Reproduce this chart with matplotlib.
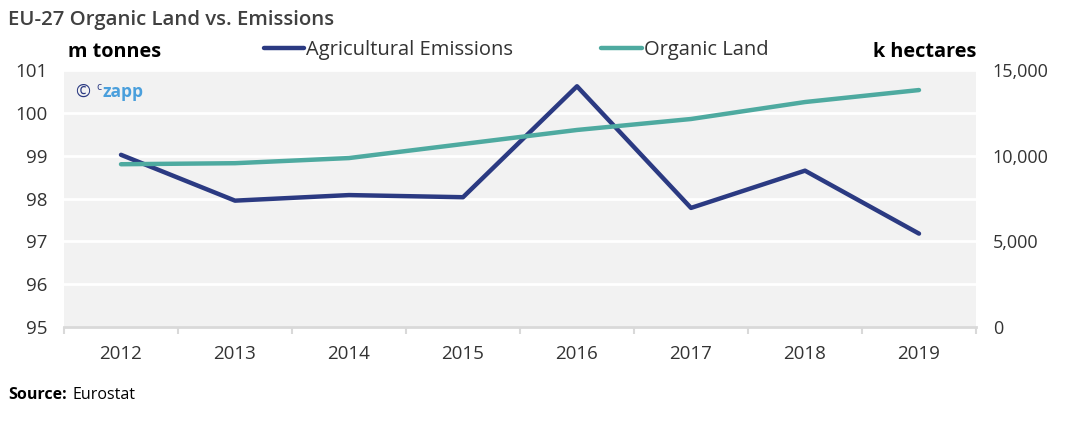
import numpy as np
import matplotlib.pyplot as plt

plt.rcParams['font.family'] = ['Open Sans', 'DejaVu Sans']

# data
years = ['2012', '2013', '2014', '2015', '2016', '2017', '2018', '2019']
emissions = [99.02, 97.95, 98.08, 98.03, 100.62, 97.78, 98.65, 97.18]  # m tonnes
organic = [9500, 9560, 9860, 10680, 11500, 12140, 13130, 13830]  # k hectares

navy = '#2b3a82'
teal = '#4eaaa0'
txt = '#333333'

fig = plt.figure(figsize=(10.66, 4.22), dpi=100)
ax = fig.add_axes([64/1066, 1-327/422, 912/1066, 257/422])
ax2 = ax.twinx()

x = np.arange(len(years))
ax.set_facecolor('#f2f2f2')
l1, = ax.plot(x, emissions, color=navy, lw=3.2, solid_capstyle='round', zorder=3)
l2, = ax2.plot(x, organic, color=teal, lw=3.2, solid_capstyle='round', zorder=3)

ax.set_xlim(-0.5, len(years) - 0.5)
ax.set_ylim(95, 101)
ax.set_yticks(range(95, 102))
ax2.set_ylim(0, 15000)
ax2.set_yticks([0, 5000, 10000, 15000])
ax2.set_yticklabels(['0', '5,000', '10,000', '15,000'])

ax.set_xticks(x)
ax.set_xticklabels(years)
ax.set_xticks(np.arange(-0.5, len(years)), minor=True)
ax.tick_params(axis='x', which='major', length=0, pad=13, labelsize=13.5, labelcolor=txt)
ax.tick_params(axis='x', which='minor', length=5, color='#d9d9d9', width=1.5)
ax.tick_params(axis='y', length=0, pad=12, labelsize=13.5, labelcolor=txt)
ax2.tick_params(axis='y', length=0, pad=12, labelsize=13, labelcolor=txt)

ax.grid(axis='y', color='white', lw=2)
ax.set_axisbelow(True)
for a in (ax, ax2):
    for s in ['top', 'left', 'right', 'bottom']:
        a.spines[s].set_visible(False)
ax.spines['bottom'].set_visible(True)
ax.spines['bottom'].set_color('#d9d9d9')
ax.spines['bottom'].set_linewidth(2)

fig.text(8/1066, 1-20/422, 'EU-27 Organic Land vs. Emissions', fontsize=14.7,
         fontweight='semibold', color='#404040', va='center')
fig.text(68/1066, 1-52/422, 'm tonnes', fontsize=14.3, fontweight='bold', color='black', va='center')
fig.text(976/1066, 1-52/422, 'k hectares', fontsize=14.3, fontweight='bold', color='black',
         va='center', ha='right')
fig.legend([l1, l2], ['Agricultural Emissions', 'Organic Land'], loc='center',
           bbox_to_anchor=(516/1066, 1-50/422), ncol=2, frameon=False, fontsize=14.5,
           handlelength=2.0, handletextpad=0.1, columnspacing=4.4,
           labelcolor=txt)

ax.text(0.012, 0.915, '\u00a9', transform=ax.transAxes, fontsize=13, color=navy, va='center')
ax.text(0.036, 0.93, 'c', transform=ax.transAxes, fontsize=7.5, color=navy, va='center')
ax.text(0.042, 0.915, 'zapp', transform=ax.transAxes, fontsize=12.5, color='#4a9fdc',
        fontweight='bold', va='center')

fig.text(8/1066, 1-395/422, 'Source:', fontsize=11.5, fontweight='bold', color='black', va='center')
fig.text(72/1066, 1-395/422, 'Eurostat', fontsize=11.5, color='black', va='center')

fig.savefig('out.png', dpi=100)
